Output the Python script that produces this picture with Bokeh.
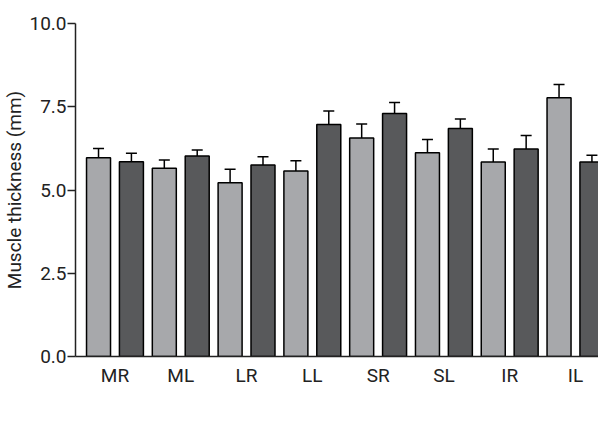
from bokeh.plotting import figure
from bokeh.models import ColumnDataSource, Whisker, TeeHead, Legend, LegendItem, FixedTicker, Title
from bokeh.embed import file_html
from bokeh.resources import INLINE

muscles = ["MR", "ML", "LR", "LL", "SR", "SL", "IR", "IL"]
controls = [5.97, 5.65, 5.22, 5.57, 6.56, 6.12, 5.84, 7.77]
controls_err = [0.28, 0.25, 0.40, 0.31, 0.42, 0.40, 0.39, 0.40]
tao = [5.85, 6.02, 5.75, 6.97, 7.30, 6.85, 6.23, 5.84]
tao_err = [0.25, 0.18, 0.25, 0.40, 0.33, 0.28, 0.41, 0.20]

FONT = "Roboto"
C_FILL = "#a7a8ab"
T_FILL = "#58595b"
TXT = "#222222"

n = len(muscles)
xc = [2 * i for i in range(n)]
xt = [2 * i + 1 for i in range(n)]

src_c = ColumnDataSource(dict(x=xc, top=controls, up=[v + e for v, e in zip(controls, controls_err)]))
src_t = ColumnDataSource(dict(x=xt, top=tao, up=[v + e for v, e in zip(tao, tao_err)]))

p = figure(output_backend="svg", toolbar_location=None,
           x_range=(-0.7, 2 * n - 1 + 0.23), y_range=(0, 10),
           frame_width=524, frame_height=333,
           min_border_left=66, min_border_right=0, min_border_top=23, min_border_bottom=0)

bw = 24 / 32.9
rc = p.vbar(x="x", top="top", bottom=0, width=bw, source=src_c, fill_color=C_FILL,
            line_color="black", line_width=1.5)
rt = p.vbar(x="x", top="top", bottom=0, width=bw, source=src_t, fill_color=T_FILL,
            line_color="black", line_width=1.5)

for src in (src_c, src_t):
    w = Whisker(base="x", lower="top", upper="up", source=src, dimension="height",
                line_color="black", line_width=1.5,
                upper_head=TeeHead(size=11, line_color="black", line_width=1.5),
                lower_head=None)
    p.add_layout(w)

p.grid.visible = False
p.outline_line_color = None

p.xaxis.ticker = FixedTicker(ticks=[2 * i + 0.5 for i in range(n)])
p.xaxis.major_label_overrides = {2 * i + 0.5: m for i, m in enumerate(muscles)}
p.xaxis.major_tick_out = 0
p.xaxis.major_tick_in = 0
p.xaxis.major_label_standoff = 7

p.yaxis.ticker = FixedTicker(ticks=[0, 2.5, 5, 7.5, 10])
p.yaxis.major_label_overrides = {0: "0.0", 2.5: "2.5", 5: "5.0", 7.5: "7.5", 10: "10.0"}
p.yaxis.major_tick_out = 8
p.yaxis.major_tick_in = 0
p.yaxis.major_label_standoff = 1
p.yaxis.axis_label = "Muscle thickness (mm)"
p.yaxis.axis_label_standoff = 0

for ax in (p.xaxis, p.yaxis):
    ax.minor_tick_line_color = None
    ax.axis_line_color = TXT
    ax.axis_line_width = 1.5
    ax.major_tick_line_color = TXT
    ax.major_tick_line_width = 1.5
    ax.major_label_text_font = FONT
    ax.major_label_text_font_size = "19px"
    ax.major_label_text_color = TXT
    ax.axis_label_text_font = FONT
    ax.axis_label_text_font_size = "19px"
    ax.axis_label_text_font_style = "normal"
    ax.axis_label_text_color = TXT

spacer = Title(text=" ", text_font_size="11px", standoff=0, offset=0)
p.add_layout(spacer, "below")

legend = Legend(items=[LegendItem(label="Controls", renderers=[rc]),
                       LegendItem(label="TAO patients", renderers=[rt])],
                orientation="horizontal", location="center",
                glyph_width=23, glyph_height=13, label_standoff=5, spacing=16,
                label_text_font=FONT, label_text_font_size="19px", label_text_color=TXT,
                border_line_color=None, background_fill_alpha=0, padding=0, margin=0)
p.add_layout(legend, "below")

open("out.html", "w").write(file_html(p, INLINE))
